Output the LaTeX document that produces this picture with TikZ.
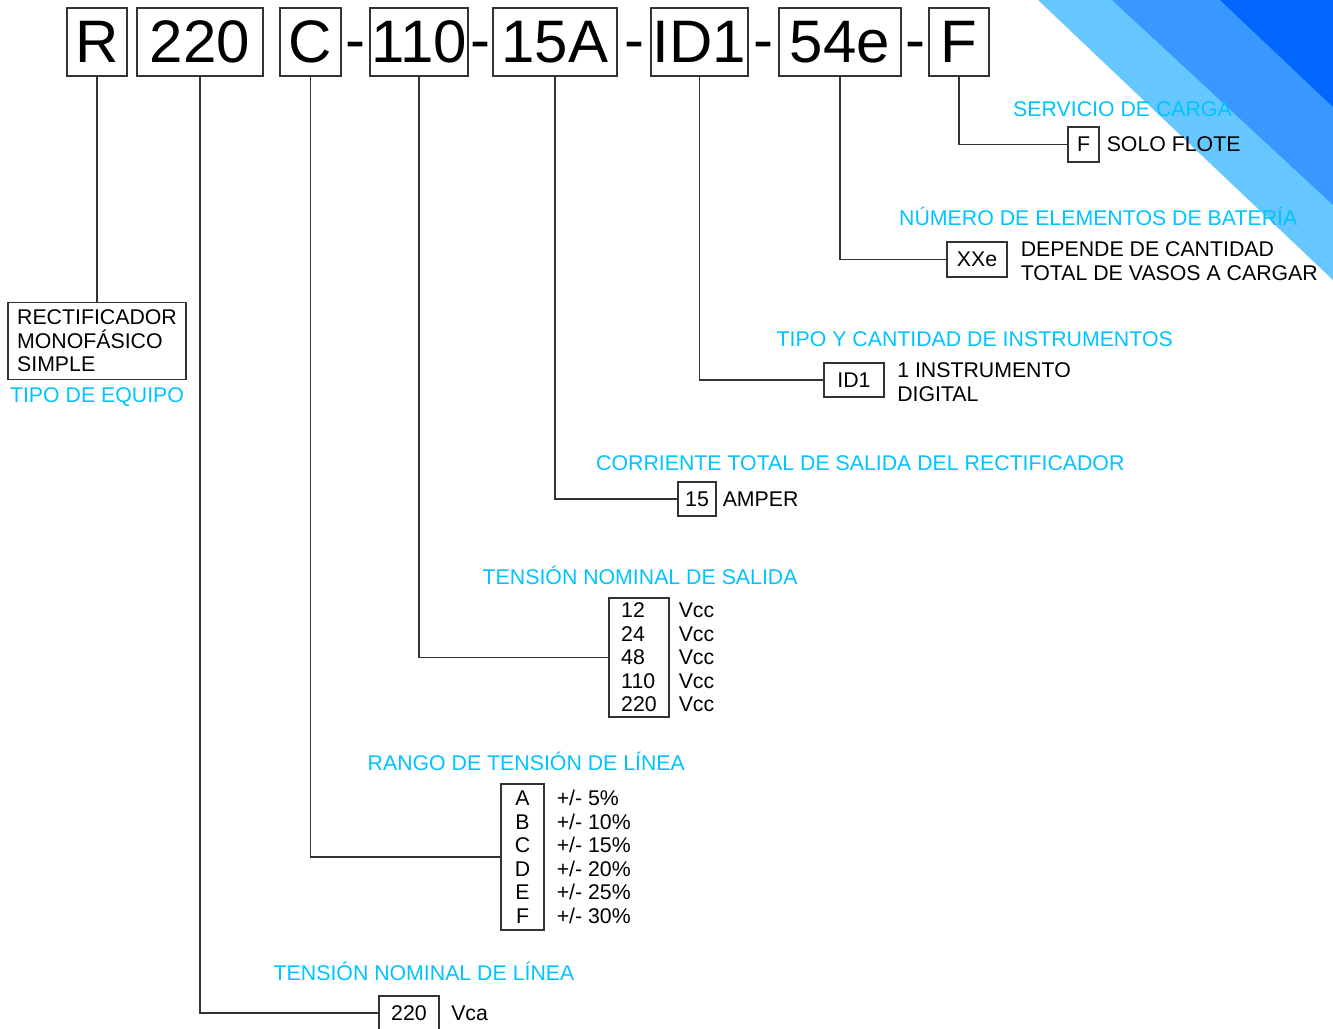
\documentclass[tikz,border=0pt]{standalone}
\usepackage{fontspec}
\setmainfont{Liberation Sans}
\usetikzlibrary{positioning}
\definecolor{titlecyan}{RGB}{0,195,255}
\definecolor{bandlight}{RGB}{102,199,255}
\definecolor{bandmid}{RGB}{56,152,255}
\definecolor{banddark}{RGB}{0,102,255}

\begin{document}
\begin{tikzpicture}[x=1pt, y=-1pt,
  codebox/.style={draw=black!80, line width=1.3pt, minimum height=68pt, inner sep=0pt, font=\fontsize{60}{68}\selectfont},
  hyph/.style={inner sep=0pt, text height=36pt, text depth=0pt, font=\fontsize{60}{68}\selectfont},
  optbox/.style={draw=black!80, line width=1.1pt, inner sep=0pt, font=\fontsize{21.3}{23.5}\selectfont},
  desc/.style={inner sep=0pt, align=left, font=\fontsize{21.3}{23.5}\selectfont},
  heading/.style={inner sep=0pt, anchor=base west, text=titlecyan, font=\fontsize{21.3}{23.5}\selectfont},
  link/.style={draw=black!80, line width=1.1pt}]
  \useasboundingbox (0,0) rectangle (1333,1028);
  % corner bands
  \fill[bandlight] (1038,0) -- (1333,0) -- (1333,280) -- cycle;
  \fill[bandmid] (1112,0) -- (1333,0) -- (1333,205) -- cycle;
  \fill[banddark] (1220,0) -- (1333,0) -- (1333,107) -- cycle;

  % code row
  \node[codebox, minimum width=60pt] (codeR) at (97,42) {R};
  \node[codebox, minimum width=126pt] (code220) at (200,42) {220};
  \node[codebox, minimum width=61pt] (codeC) at (310.5,42) {C};
  \node[codebox, minimum width=98pt] (code110) at (419,42) {110};
  \node[codebox, minimum width=124pt] (code15A) at (555,42) {15A};
  \node[codebox, minimum width=97pt] (codeID) at (699.5,42) {ID1};
  \node[codebox, minimum width=122pt] (code54e) at (840,42) {54e};
  \node[codebox, minimum width=60pt] (codeF) at (959,42) {F};
  \path (codeC.east) -- node[hyph]{-} (code110.west);
  \path (code110.east) -- node[hyph]{-} (code15A.west);
  \path (code15A.east) -- node[hyph]{-} (codeID.west);
  \path (codeID.east) -- node[hyph]{-} (code54e.west);
  \path (code54e.east) -- node[hyph]{-} (codeF.west);

  % option boxes
  \node[optbox, minimum width=178pt, minimum height=77pt, align=left] (optR) at (97,341) {RECTIFICADOR\\MONOFÁSICO\\SIMPLE};
  \node[optbox, minimum width=60pt, minimum height=34pt] (opt220) at (409,1013) {220};
  \node[optbox, minimum width=43pt, minimum height=146pt, align=center] (optC) at (522.5,857) {A\\B\\C\\D\\E\\F};
  \node[optbox, minimum width=60pt, minimum height=119pt, align=left] (opt110) at (639,657.5) {12\\24\\48\\110\\220};
  \node[optbox, minimum width=38pt, minimum height=34pt] (opt15A) at (697,499) {15};
  \node[optbox, minimum width=60pt, minimum height=34pt] (optID) at (854,380) {ID1};
  \node[optbox, minimum width=60pt, minimum height=35pt] (opt54e) at (977,259.5) {XXe};
  \node[optbox, minimum width=31pt, minimum height=35pt] (optF) at (1083.5,144.5) {F};

  \node[desc, right=7pt of optF] (descF) {SOLO FLOTE};
  \node[desc, right=13pt of opt54e, yshift=-1.5pt] (desc54e) {DEPENDE DE CANTIDAD\\TOTAL DE VASOS A CARGAR};
  \node[desc, right=12.5pt of optID, yshift=-2pt] (descID) {1 INSTRUMENTO\\DIGITAL};
  \node[desc, right=6pt of opt15A] (desc15A) {AMPER};
  \node[desc, right=9pt of opt110] (desc110) {Vcc\\Vcc\\Vcc\\Vcc\\Vcc};
  \node[desc, right=12pt of optC] (descC) {+/- 5\%\\+/- 10\%\\+/- 15\%\\+/- 20\%\\+/- 25\%\\+/- 30\%};
  \node[desc, right=11.5pt of opt220] (desc220) {Vca};

  % headings
  \node[heading] (headF) at (1013,116.5) {SERVICIO DE CARGA};
  \node[heading] (head54e) at (899,225.5) {NÚMERO DE ELEMENTOS DE BATERÍA};
  \node[heading] (headID) at (776.5,346) {TIPO Y CANTIDAD DE INSTRUMENTOS};
  \node[heading] (head15A) at (596,470.5) {CORRIENTE TOTAL DE SALIDA DEL RECTIFICADOR};
  \node[heading] (head110) at (482.5,584) {TENSIÓN NOMINAL DE SALIDA};
  \node[heading] (headC) at (367.5,770) {RANGO DE TENSIÓN DE LÍNEA};
  \node[heading] (head220) at (273.5,980) {TENSIÓN NOMINAL DE LÍNEA};
  \node[heading, below=7.5pt of optR] (headR) {TIPO DE EQUIPO};

  % links
  \draw[link] (codeR.south) -- (optR.north);
  \draw[link] (code220.south) |- (opt220.west);
  \draw[link] (codeC.south) |- (optC.west);
  \draw[link] (code110.south) |- (opt110.west);
  \draw[link] (code15A.south) |- (opt15A.west);
  \draw[link] (codeID.south) |- (optID.west);
  \draw[link] (code54e.south) |- (opt54e.west);
  \draw[link] (codeF.south) |- (optF.west);
\end{tikzpicture}
\end{document}
